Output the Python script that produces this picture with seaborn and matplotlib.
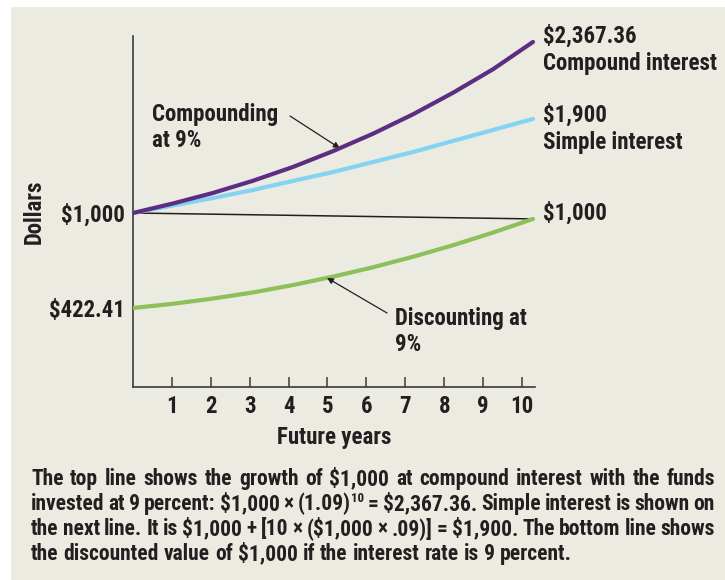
import matplotlib
matplotlib.use("Agg")
import matplotlib.pyplot as plt
from matplotlib.patches import Rectangle
from matplotlib.transforms import ScaledTranslation
import numpy as np
import pandas as pd
import seaborn as sns

# ---------------- data (the illustration is not to scale) ----------------
years = [0, 1, 2, 3, 4, 5, 6, 7, 8, 9, 10]
compound_vals = [1000, 1058, 1122, 1196, 1280, 1376, 1482, 1600, 1731, 1874, 2040]
simple_vals = [1000, 1046, 1091, 1140, 1195, 1249, 1310, 1371, 1438, 1505, 1572]
discount_vals = [422.41, 448, 480, 517, 562, 613, 670, 734, 804, 881, 964]
present_years = [0, 10]
present_vals = [1000, 964]
tick_years = [1, 2, 3, 4, 5, 6, 7, 8, 9, 10]
ytick_vals = [1000, 422.41]
ytick_labels = ["$1,000", "$422.41"]
end_labels = [("$2,367.36", "Compound interest"), ("$1,900", "Simple interest"), ("$1,000", None)]
caption_lines = [
    "The top line shows the growth of $1,000 at compound interest with the funds",
    "invested at 9 percent: $1,000 × (1.09)^10 = $2,367.36. Simple interest is shown on",
    "the next line. It is $1,000 + [10 × ($1,000 × .09)] = $1,900. The bottom line shows",
    "the discounted value of $1,000 if the interest rate is 9 percent.",
]

# ---------------- style ----------------
W, H = 725, 580
BG = "#ecebe1"
INK = "#231f20"
PURPLE = "#5c2d82"
BLUE = "#84d3f5"
GREEN = "#8dbf5a"
FONT = ["Roboto Condensed", "DejaVu Sans"]
FS = 16.5
FS_CAP = 15.5
WT = "heavy"

sns.set_theme(style="white")
plt.rcParams["font.family"] = FONT
plt.rcParams["font.weight"] = WT
plt.rcParams["text.parse_math"] = False
plt.rcParams["text.color"] = INK

fig = plt.figure(figsize=(W / 100, H / 100), dpi=100, facecolor="white")
fig.patches.append(Rectangle((11 / W, 0), 1 - 11 / W, 1 - 7 / H, transform=fig.transFigure,
                             facecolor=BG, edgecolor="none", zorder=-10))

ax = fig.add_axes([133 / W, 1 - 387 / H, 402 / W, 351 / H])
ax.set_facecolor("none")

df_present = pd.DataFrame({"year": present_years, "value": present_vals})
df_comp = pd.DataFrame({"year": years, "value": compound_vals})
df_simple = pd.DataFrame({"year": years, "value": simple_vals})
df_disc = pd.DataFrame({"year": years, "value": discount_vals})

sns.lineplot(data=df_present, x="year", y="value", color=INK, linewidth=1.1, ax=ax, zorder=2)
sns.lineplot(data=df_disc, x="year", y="value", color=GREEN, linewidth=3.0, ax=ax, zorder=3)
sns.lineplot(data=df_simple, x="year", y="value", color=BLUE, linewidth=3.0, ax=ax, zorder=3)
sns.lineplot(data=df_comp, x="year", y="value", color=PURPLE, linewidth=3.0, ax=ax, zorder=4)

px_per_dollar = 95 / 577.59
ax.set_xlim(0, 10.05)
ax.set_ylim(1000 - 174 / px_per_dollar, 1000 + 177 / px_per_dollar)

for s in ["top", "right"]:
    ax.spines[s].set_visible(False)
for s in ["left", "bottom"]:
    ax.spines[s].set_color("#3a3a3a")
    ax.spines[s].set_linewidth(1.2)

TICK_STEP = 38.9 / 40.0
ax.set_xticks(np.array(tick_years) * TICK_STEP)
ax.set_xticklabels([str(t) for t in tick_years], fontsize=FS, fontweight=WT, color=INK)
ax.tick_params(axis="x", direction="in", length=7.5, width=1.1, color="#3a3a3a", pad=6, bottom=True)
ax.set_yticks(ytick_vals)
ax.set_yticklabels(ytick_labels, fontsize=FS, fontweight=WT, color=INK)
ax.tick_params(axis="y", length=0, pad=6, left=False)
off = ScaledTranslation(0, -2.5 / 100, fig.dpi_scale_trans)
for lab in ax.get_yticklabels():
    lab.set_va("center")
    lab.set_transform(lab.get_transform() + off)

ax.set_xlabel("Future years", fontsize=FS, fontweight=WT, color=INK)
ax.xaxis.set_label_coords(0.5, -(426 - 387) / 351)
ax.xaxis.label.set_va("top")
ax.set_ylabel("Dollars", fontsize=FS, fontweight=WT, color=INK)
ax.yaxis.set_label_coords(-(133 - 46) / 402, 0.5)

# end-of-line labels
ends = [(years[-1], compound_vals[-1]), (years[-1], simple_vals[-1]), (years[-1], discount_vals[-1])]
offsets = [(10, -1), (10, -3), (10, -1)]
for (x, y), (l1, l2), (dx, dy) in zip(ends, end_labels, offsets):
    ax.annotate(l1, xy=(x, y), xytext=(dx, dy), textcoords="offset pixels", va="baseline", ha="left",
                fontsize=FS, fontweight=WT, color=INK, annotation_clip=False)
    if l2:
        ax.annotate(l2, xy=(x, y), xytext=(dx, dy - 27), textcoords="offset pixels", va="baseline",
                    ha="left", fontsize=FS, fontweight=WT, color=INK, annotation_clip=False)

def fig_text_px(x, y_top_based, s, **kw):
    return fig.text(x / W, 1 - y_top_based / H, s, fontsize=FS, fontweight=WT, color=INK,
                    va="baseline", ha="left", **kw)

fig_text_px(152, 121, "Compounding")
fig_text_px(152, 147, "at 9%")
fig_text_px(395, 325, "Discounting at")
fig_text_px(395, 351, "9%")

xc = 5.17
ax.annotate("", xy=(xc, np.interp(xc, years, compound_vals)), xytext=(290, H - 116),
            textcoords="figure pixels",
            arrowprops=dict(arrowstyle="-|>", color=INK, lw=0.9, mutation_scale=9, shrinkA=0, shrinkB=0))
xd = 4.85
ax.annotate("", xy=(xd, np.interp(xd, years, discount_vals)), xytext=(387, H - 313),
            textcoords="figure pixels",
            arrowprops=dict(arrowstyle="-|>", color=INK, lw=0.9, mutation_scale=9, shrinkA=0, shrinkB=0))

# caption, justified line by line
renderer = fig.canvas.get_renderer()
X0, X1 = 31, 715
baselines = [485, 510, 535, 560]

def make_word(w):
    if "^" in w:
        base, sup = w.split("^")
        t1 = fig.text(0, 0, base, fontsize=FS_CAP, fontweight=WT, color=INK, va="baseline")
        t2 = fig.text(0, 0, sup, fontsize=FS_CAP * 0.6, fontweight=WT, color=INK, va="baseline")
        w1 = t1.get_window_extent(renderer).width
        w2 = t2.get_window_extent(renderer).width
        return [(t1, 0, 0), (t2, w1 + 0.5, 8)], w1 + w2 + 0.5
    t = fig.text(0, 0, w, fontsize=FS_CAP, fontweight=WT, color=INK, va="baseline")
    return [(t, 0, 0)], t.get_window_extent(renderer).width

space_t = fig.text(0, 0, "a a", fontsize=FS_CAP, fontweight=WT)
aa_t = fig.text(0, 0, "aa", fontsize=FS_CAP, fontweight=WT)
space_w = space_t.get_window_extent(renderer).width - aa_t.get_window_extent(renderer).width
space_t.remove(); aa_t.remove()

for i, (line, yb) in enumerate(zip(caption_lines, baselines)):
    words = line.split(" ")
    parts = [make_word(w) for w in words]
    total = sum(p[1] for p in parts)
    justify = i < len(caption_lines) - 1
    gap = (X1 - X0 - total) / (len(parts) - 1) if justify else space_w
    x = X0
    for items, wdt in parts:
        for t, dx, dy in items:
            t.set_position(((x + dx) / W, 1 - (yb - dy) / H))
        x += wdt + gap

fig.savefig("out.png", dpi=100, facecolor="white")
